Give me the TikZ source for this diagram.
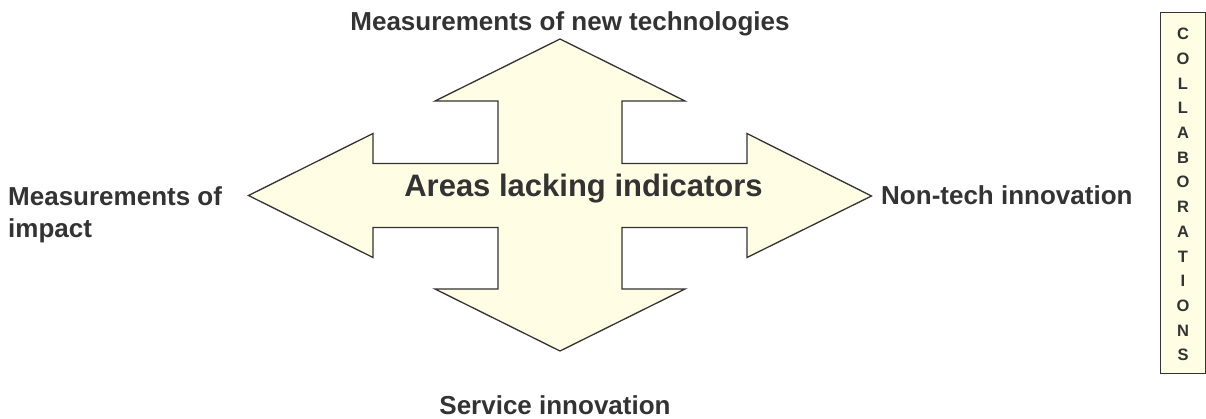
\documentclass[tikz,border=0pt]{standalone}
\usepackage{fontspec}
\setmainfont{Liberation Sans}
\begin{document}
\definecolor{ink}{HTML}{333333}
\definecolor{cream}{HTML}{FFFDE3}
\begin{tikzpicture}[x=1pt,y=-1pt,
  label/.style={text=ink,font=\bfseries\fontsize{26}{32}\selectfont,inner sep=0pt},
  shapeline/.style={draw=ink,line width=1.3pt,fill=cream,line join=miter}]
\useasboundingbox (0,0) rectangle (1206,418);
% four-way arrow
\path[shapeline]
  (560,39) -- (685,101) -- (622,101) -- (622,163.5) -- (747,163.5) -- (747,133.5)
  -- (871.5,196) -- (747,257.5) -- (747,227.5) -- (622,227.5) -- (622,289)
  -- (685,289) -- (560,351) -- (435,289) -- (498,289) -- (498,227.5)
  -- (373,227.5) -- (373,257.5) -- (248.5,195.5) -- (373,133.5) -- (373,163.5)
  -- (498,163.5) -- (498,101) -- (435,101) -- cycle;
\node[label,anchor=base,font=\bfseries\fontsize{31}{36}\selectfont] (centre) at (583.5,196) {Areas lacking indicators};
\node[label,anchor=base] (top) at (570,30) {Measurements of new technologies};
\node[label,anchor=base] (bottom) at (555,414) {Service innovation};
\node[label,anchor=base west] (right) at (881,204) {Non-tech innovation};
\node[label,anchor=north west,align=left] (left) at (8,186.5) {Measurements of\\impact};
% side box
\node[draw=ink,line width=1pt,fill=cream,minimum width=45.5pt,minimum height=360.5pt,inner sep=0pt] (collab) at (1183,193) {};
\node[text=ink,font=\bfseries\fontsize{16.5}{24.7}\selectfont,align=center,inner sep=0pt,anchor=north] (collabtext) at (1183,28)
  {C\\O\\L\\L\\A\\B\\O\\R\\A\\T\\I\\O\\N\\S};
\end{tikzpicture}
\end{document}
